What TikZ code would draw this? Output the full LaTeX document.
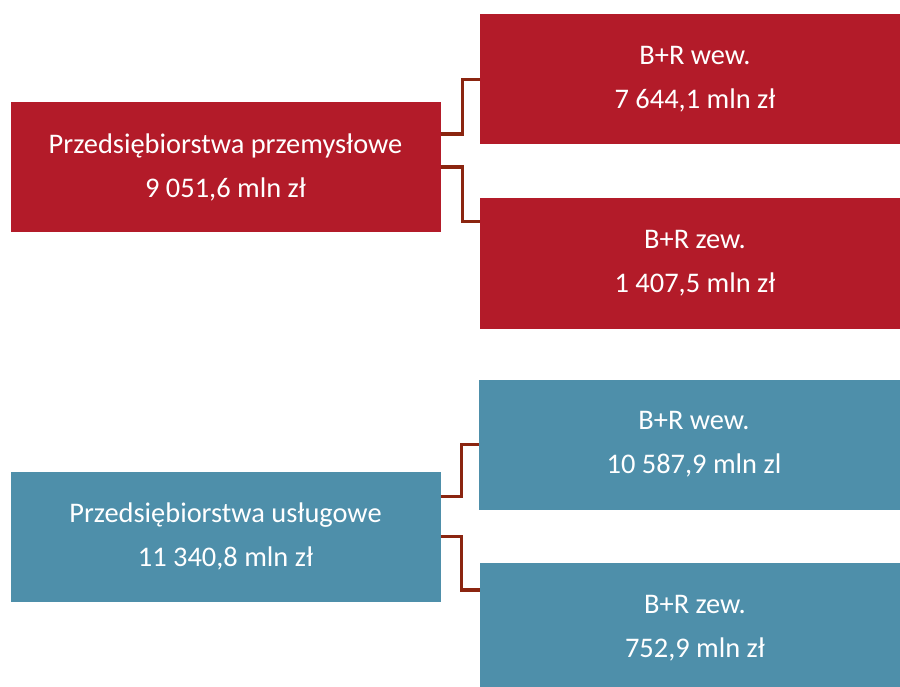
\documentclass[tikz,border=0pt]{standalone}
\usepackage{fontspec}
\setmainfont{Carlito}
\usepackage{tikz}
\definecolor{przred}{RGB}{179,27,41}
\definecolor{uslblue}{RGB}{78,143,170}
\definecolor{linkbrown}{RGB}{139,37,16}
\tikzstyle{box}=[rectangle, minimum width=430pt, minimum height=130pt,
                 inner sep=0pt, text=white, align=center,
                 font=\fontsize{28.4}{44}\selectfont]
\tikzstyle{rbox}=[box, fill=przred]
\tikzstyle{bbox}=[box, fill=uslblue]
\tikzstyle{link}=[draw=linkbrown, line width=3.5pt]

\begin{document}
\begin{tikzpicture}[x=1pt,y=-1pt]
      \useasboundingbox (0,0) rectangle (900,687);

      \node[rbox] (prz) at (225.5,167) {Przedsiębiorstwa przemysłowe\\9 051,6 mln zł};
      \node[rbox] (przwew) at (695,79.5) {B+R wew.\\7 644,1 mln zł};
      \node[rbox] (przzew) at (695,263.5) {B+R zew.\\1 407,5 mln zł};

      \node[bbox] (usl) at (225.5,536.5) {Przedsiębiorstwa usługowe\\11 340,8 mln zł};
      \node[bbox] (uslwew) at (694,444.5) {B+R wew.\\10 587,9 mln zl};
      \node[bbox] (uslzew) at (695,628) {B+R zew.\\752,9 mln zł};

      \draw[link] ([yshift=33pt]prz.east) -- ++(22,0) |- (przwew.west);
      \draw[link] (prz.east) -- ++(22,0) |- ([yshift=42pt]przzew.west);

      \draw[link] ([yshift=40pt]usl.east) -- ++(21,0) |- (uslwew.west);
      \draw[link] (usl.east) -- ++(21,0) |- ([yshift=38pt]uslzew.west);
    \end{tikzpicture}
\end{document}
